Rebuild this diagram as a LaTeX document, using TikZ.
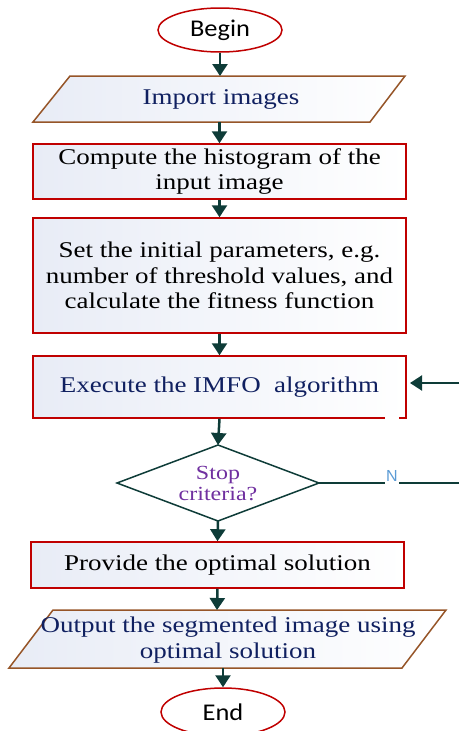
\documentclass[tikz,border=0pt]{standalone}
\usepackage{fontspec}
\setmainfont{Liberation Serif}
\newfontfamily\serifS[FakeStretch=1.2]{Liberation Serif}
\newfontfamily\sansS[FakeStretch=1.1]{Carlito}
\newfontfamily\labelfont{Liberation Sans}
\usetikzlibrary{arrows.meta,shapes.geometric}
\definecolor{arr}{RGB}{14,60,56}
\definecolor{boxred}{RGB}{192,0,0}
\definecolor{brownb}{RGB}{150,85,40}
\definecolor{navy}{RGB}{16,32,96}
\definecolor{purp}{RGB}{112,48,160}
\definecolor{nblue}{RGB}{91,155,213}
\definecolor{fillL}{RGB}{232,236,246}
\tikzset{
  box/.style={draw=boxred, line width=1.5pt, left color=fillL, right color=white, align=center, inner sep=0pt, font=\serifS\fontsize{22.5}{25.5}\selectfont},
  term/.style={ellipse, draw=boxred, line width=1.5pt, fill=white, inner sep=0pt, font=\sansS\fontsize{24}{26}\selectfont},
  para/.style={draw=brownb, line width=1.5pt, left color=fillL, right color=white},
  txt/.style={align=center, inner sep=0pt, font=\serifS\fontsize{22.5}{25.5}\selectfont},
  flow/.style={draw=arr, line width=2.5pt, -{Triangle[width=15pt,length=12pt]}},
  plainline/.style={draw=arr, line width=1.5pt},
}
\begin{document}
\begin{tikzpicture}[x=1pt,y=-1pt]
\useasboundingbox (0,0) rectangle (459,731);
% Begin
\node[term, minimum width=124pt, minimum height=44pt] (begin) at (220,30) {Begin};
% Import images
\path[para] (70,76) -- (405,76) -- (370,122) -- (33,122) -- cycle;
\node[txt, text=navy] (imp) at (221,99) {Import images};
\coordinate (imptop) at (220,76);
\coordinate (impbot) at (219.5,122);
% Box 1
\node[box, minimum width=373pt, minimum height=55pt] (b1) at (219.5,171.5) {Compute the histogram of the\\input image};
% Box 2
\node[box, minimum width=373pt, minimum height=115pt] (b2) at (219.5,275.5) {Set the initial parameters, e.g.\\number of threshold values, and\\calculate the fitness function};
% Box 3
\node[box, text=navy, minimum width=373pt, minimum height=62pt] (b3) at (219.5,387) {\raisebox{3pt}{Execute the IMFO\ \ algorithm}};
\draw[white, line width=2.5pt] (385,418) -- (399,418);
% Decision
\path[draw=arr, line width=1.5pt, fill=white] (218,445) -- (319,483) -- (218,521) -- (117,483) -- cycle;
\coordinate (dtop) at (218,445);
\coordinate (dbot) at (218,521);
\coordinate (dright) at (319,483);
\node[align=center, inner sep=0pt, text=purp, font=\serifS\fontsize{20}{21}\selectfont] (dec) at (218,484) {Stop\\criteria?};
% Box 4
\node[box, minimum width=373pt, minimum height=46pt] (b4) at (217.5,565) {Provide the optimal solution};
% Output
\path[para] (53,610) -- (446,610) -- (402,668) -- (9,668) -- cycle;
\node[txt, text=navy] (out) at (228,640) {Output the segmented image using\\optimal solution};
\coordinate (outtop) at (217,610);
\coordinate (outbot) at (223,668);
% End
\node[term, minimum width=124pt, minimum height=48pt] (end) at (223,712) {End};
% loop-back
\node[inner sep=0pt, text=nblue, font=\labelfont\fontsize{16}{16}\selectfont, minimum width=14pt] (N) at (392,476) {N};
\coordinate (rbot) at (459,483);
\coordinate (rtop) at (459,383);
\coordinate (rin) at (410,383);
% connectors
\draw[flow] (begin.south) -- (imptop);
\draw[flow] (impbot) -- (b1.north);
\draw[flow] (b1.south) -- (b2.north);
\draw[flow] (b2.south) -- (b3.north);
\draw[flow] (b3.south) -- (dtop);
\draw[flow] (dbot) -- (b4.north);
\draw[flow] (b4.south) -- (outtop);
\draw[flow] (outbot) -- (end.north);
\draw[plainline] (dright) -- (dright -| N.west);
\draw[plainline] (dright -| N.east) -- (rbot);
\draw[flow, line width=2pt] (rtop) -- (rin);
\end{tikzpicture}
\end{document}
